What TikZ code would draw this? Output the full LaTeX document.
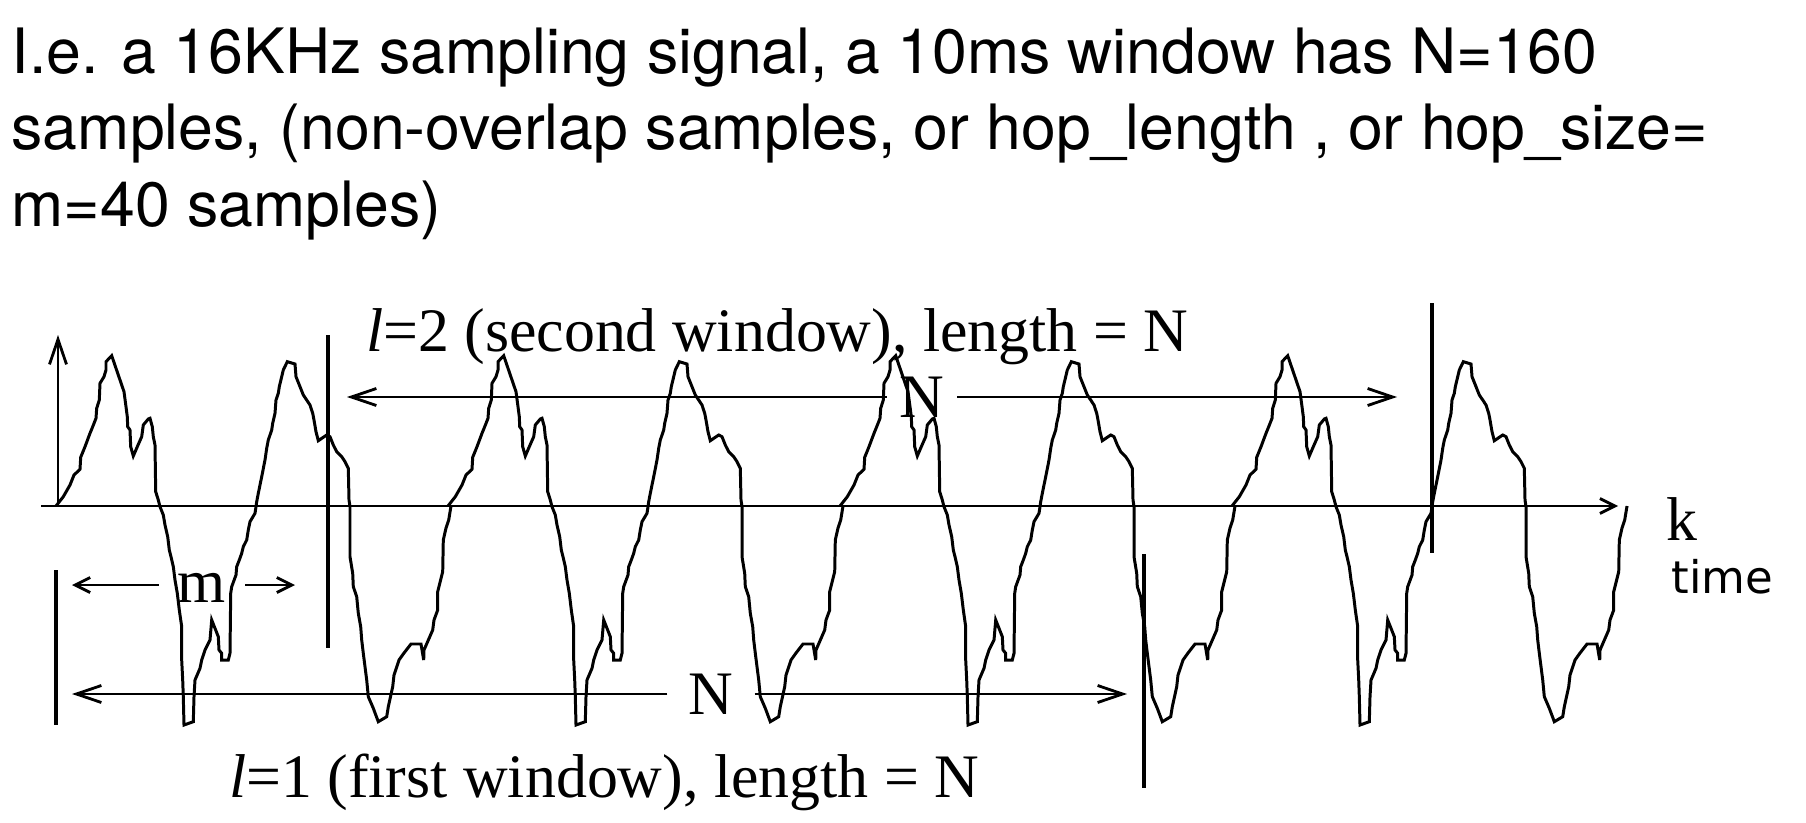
\documentclass[tikz,border=0pt]{standalone}
\usepackage{fontspec}
\setmainfont{Liberation Serif}
\newfontfamily\headfont{TeX Gyre Heros}
\newfontfamily\timefont{DejaVu Sans}
\usetikzlibrary{
    arrows.meta,
    positioning
}
\tikzset{
  wave/.style  = {line width=0.85pt, line join=miter},
  bar/.style   = {line width=1.1pt},
  darr/.style  = {-{Straight Barb[length=2.5mm, width=1.7mm]}, line width=0.8pt},
  sarr/.style  = {-{Straight Barb[length=1.5mm, width=1.5mm]}, line width=0.8pt},
  lbl/.style   = {inner sep=0pt, font=\fontsize{17.6}{21}\selectfont},
  gap/.style   = {inner ysep=0pt, font=\fontsize{17.6}{21}\selectfont}
}

\begin{document}
\begin{tikzpicture}[x=0.1mm, y=0.1mm]
        \useasboundingbox (0,-316) rectangle (1806,506);
        % heading
        \node[anchor=north west, inner sep=0pt, align=left,
              font=\headfont\fontsize{17.8}{21.8}\selectfont] (head) at (11,479)
          {I.e. a 16KHz sampling signal, a 10ms window has N=160\\
           samples, (non-overlap samples, or hop\_length , or hop\_size=\\
           m=40 samples)};
        % axes
        \coordinate (o) at (58,0);
        \coordinate (kstart) at (41,0);
        \coordinate (kend) at (1618,0);
        \coordinate (ytop) at (58,171);
        \draw[sarr] (kstart) -- (kend);
        \draw[darr] (o) -- (ytop);
        \node[lbl, anchor=base west] (k) at (1666,-34) {k};
        \node[inner sep=0pt, anchor=base west,
              font=\timefont\fontsize{12.8}{15}\selectfont] (time) at (1671,-87) {time};
        % signal: one period, drawn four times
        \foreach \i in {0,...,3}
          \draw[wave, shift={(56+\i*392,0)}] (0,0)
            \foreach \a/\b in {7.3/9.3, 14/21, 18/31, 24/36.7, 24.7/48.7, 29/59.3,
              34/72.7, 36.7/79.3, 40/87.7, 40.7/97.7, 43.3/106, 44/122.7, 48/129.3,
              50/136, 50/144.3, 55.7/150.3, 62.3/131, 68/114.3, 70/99.3, 71.3/89.3,
              71.7/79.3, 74/76, 74.7/59.3, 77.3/50, 81.3/59.3, 85.7/69.3, 87.3/81,
              92.3/87, 94/87.7, 96.3/79.3, 97.3/69.3, 99/61, 99.7/14.3, 102.3/6,
              104/-0.7, 107.3/-9, 109/-19, 111.7/-30.7, 113.3/-44, 115/-50.7,
              117.3/-60.7, 119/-74, 121.3/-87.3, 123.3/-104, 125.7/-120.7,
              125.7/-154, 126.7/-174, 127.3/-190.7, 128/-219, 137.3/-215.7,
              138/-190.7, 139/-174, 144/-162.3, 145.7/-154, 149/-144, 154/-134,
              155.7/-114, 159/-122.3, 162.3/-130.7, 163/-144, 165.7/-147.3,
              165.7/-154, 172.3/-154, 174/-147.3, 174.7/-87.3, 175.7/-80.7,
              180/-69, 180.7/-60.7, 183.3/-54, 185.7/-47.3, 187.3/-40.7, 190.7/-34,
              192.3/-24, 194/-15.7, 199/-7.3, 200/-0.7, 200.7/4.3, 202.3/12.7,
              205.7/29.3, 209/46, 210.7/57.7, 212.3/66, 215.7/76, 216.7/82.7,
              219/92.7, 220/106, 222.3/112.7, 223.3/119.3, 225.7/129.3, 227.3/136,
              229.7/141, 231.3/144.3, 239/142, 240/129.3, 244/119.3, 247.3/111,
              250.7/106, 254/101, 256.7/92.7, 258/86, 260/74.3, 262.3/65.3,
              270.7/71, 274/69.3, 277.3/61, 280.7/54.3, 285.7/49.3, 289/44.3,
              292.3/37.7, 293/6, 294/-0.7, 294/-50.7, 296.7/-67.3, 297.3/-80.7,
              300.7/-90.7, 302.3/-107.3, 304.7/-120.7, 305.7/-134, 307.3/-147.3,
              309/-160.7, 310.7/-174, 312.3/-190.7, 317.3/-202.3, 322.3/-215.7,
              330.7/-210.7, 332.3/-200.7, 336.7/-180.7, 338/-169, 343/-154,
              348/-147, 355/-138, 365/-138, 367.7/-154, 368/-144, 376.7/-124,
              378/-114, 381.7/-104, 381.7/-85.7, 386.7/-65.7, 387.3/-34, 390/-22,
              392.7/-14, 395/0}
            { -- (\a,\b) };
        % window borders
        \draw[bar] (56,-64) -- (56,-219);
        \draw[bar] (328,171) -- (328,-142);
        \draw[bar] (1144,-48) -- (1144,-282);
        \draw[bar] (1432,203) -- (1432,-47);
        % hop m
        \coordinate (mL) at (72,-79);
        \coordinate (mR) at (295,-79);
        \node[gap, inner xsep=1.85mm] (m) at (202,-82) {m};
        \draw[sarr] (m.west |- mL) -- (mL);
        \draw[sarr] (m.east |- mR) -- (mR);
        % first window
        \coordinate (fL) at (72,-188);
        \coordinate (fR) at (1127,-188);
        \node[gap, inner xsep=2.06mm] (Nfirst) at (711,-188) {N};
        \draw[darr] (Nfirst) -- (fL);
        \draw[darr] (Nfirst) -- (fR);
        \node[lbl, anchor=base east] (first) at (980,-291)
          {\textit{l}=1 (first window), length = N};
        % second window
        \coordinate (sL) at (347,109);
        \coordinate (sR) at (1397,109);
        \node[gap, inner xsep=1.2mm] (Nsecond) at (922,109) {N};
        \draw[darr] (Nsecond) -- (sL);
        \draw[darr] (Nsecond) -- (sR);
        \node[lbl, anchor=base east] (second) at (1189,154)
          {\textit{l}=2 (second window), length = N};
      \end{tikzpicture}
\end{document}
